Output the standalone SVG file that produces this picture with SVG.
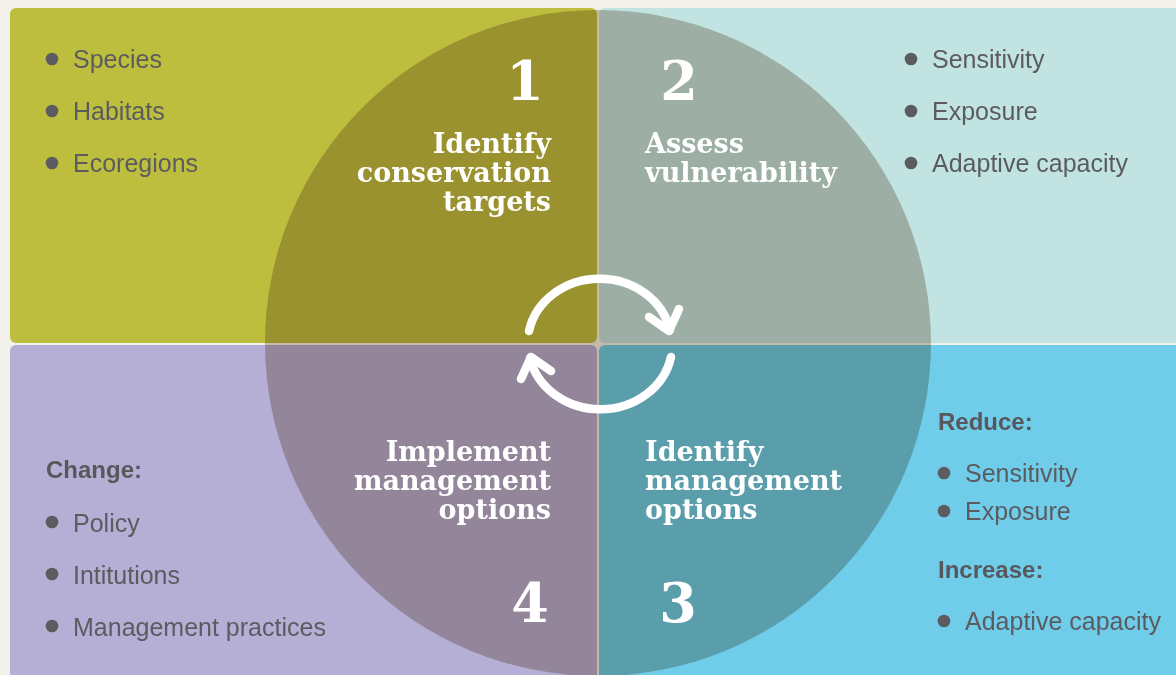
<svg xmlns="http://www.w3.org/2000/svg" width="1176" height="675" viewBox="0 0 1176 675">
<style>
.item{font-family:"Liberation Sans",Arial,sans-serif;font-size:25px;fill:#5b5b60}
.hd{font-family:"Liberation Sans",Arial,sans-serif;font-size:24px;font-weight:bold;fill:#58585c}
.dot{fill:#5b5b60}
.lbl{font-family:"DejaVu Serif",Georgia,serif;font-size:27px;font-weight:bold;fill:#ffffff}
.num{font-family:"DejaVu Serif",Georgia,serif;font-size:54px;font-weight:bold;fill:#ffffff;text-anchor:middle}
.arr{fill:none;stroke:#ffffff;stroke-width:8.5;stroke-linecap:round;stroke-linejoin:round}
</style>
<rect x="0" y="0" width="1176" height="675" fill="#f2f1ea"/>
<g id="q1">
<rect x="10" y="8" width="587" height="335" rx="6" fill="#bebe3e"/>
</g>
<g id="q2">
<rect x="599" y="8" width="590" height="335" rx="6" fill="#c1e4e2"/>
</g>
<g id="q4">
<rect x="10" y="345" width="587" height="345" rx="6" fill="#b5aed5"/>
</g>
<g id="q3">
<rect x="599" y="345" width="590" height="345" rx="6" fill="#6fcdea"/>
</g>
<circle id="ring" cx="598" cy="343" r="333" fill="#cfc4ba" style="mix-blend-mode:multiply"/>
<g id="list1">
<circle class="dot" cx="52" cy="59" r="6.3"/><text class="item" x="73" y="68">Species</text>
<circle class="dot" cx="52" cy="111" r="6.3"/><text class="item" x="73" y="120">Habitats</text>
<circle class="dot" cx="52" cy="163" r="6.3"/><text class="item" x="73" y="172">Ecoregions</text>
</g>
<g id="list2">
<circle class="dot" cx="911" cy="59" r="6.3"/><text class="item" x="932" y="68">Sensitivity</text>
<circle class="dot" cx="911" cy="111" r="6.3"/><text class="item" x="932" y="120">Exposure</text>
<circle class="dot" cx="911" cy="163" r="6.3"/><text class="item" x="932" y="172">Adaptive capacity</text>
</g>
<g id="list4">
<text class="hd" x="46" y="478">Change:</text>
<circle class="dot" cx="52" cy="522" r="6.3"/><text class="item" x="73" y="532">Policy</text>
<circle class="dot" cx="52" cy="574" r="6.3"/><text class="item" x="73" y="584">Intitutions</text>
<circle class="dot" cx="52" cy="626" r="6.3"/><text class="item" x="73" y="636">Management practices</text>
</g>
<g id="list3">
<text class="hd" x="938" y="430">Reduce:</text>
<circle class="dot" cx="944" cy="473" r="6.3"/><text class="item" x="965" y="482">Sensitivity</text>
<circle class="dot" cx="944" cy="511" r="6.3"/><text class="item" x="965" y="520">Exposure</text>
<text class="hd" x="938" y="578">Increase:</text>
<circle class="dot" cx="944" cy="621" r="6.3"/><text class="item" x="965" y="630">Adaptive capacity</text>
</g>
<g id="step1">
<text class="num" x="525" y="100">1</text>
<text class="lbl" text-anchor="end"><tspan x="551" y="153">Identify</tspan><tspan x="551" y="182">conservation</tspan><tspan x="551" y="211">targets</tspan></text>
</g>
<g id="step2">
<text class="num" x="679" y="100">2</text>
<text class="lbl"><tspan x="645" y="153">Assess</tspan><tspan x="645" y="182">vulnerability</tspan></text>
</g>
<g id="step3">
<text class="num" x="678" y="622">3</text>
<text class="lbl"><tspan x="645" y="461">Identify</tspan><tspan x="645" y="490">management</tspan><tspan x="645" y="519">options</tspan></text>
</g>
<g id="step4">
<text class="num" x="530" y="622">4</text>
<text class="lbl" text-anchor="end"><tspan x="551" y="461">Implement</tspan><tspan x="551" y="490">management</tspan><tspan x="551" y="519">options</tspan></text>
</g>
<g id="connectors">
<path class="arr" d="M 529 331 A 72 65 0 0 1 670 330"/>
<path class="arr" d="M 649 317 L 669 331 L 679 309"/>
<path class="arr" d="M 671 357 A 72 65 0 0 1 530 358"/>
<path class="arr" d="M 551 371 L 531 357 L 521 379"/>
</g>
</svg>
